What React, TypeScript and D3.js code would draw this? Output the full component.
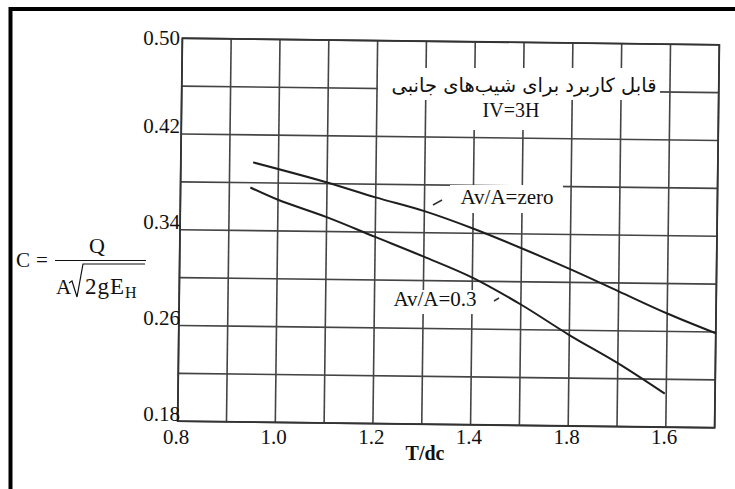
import React from "react";
import * as d3 from "d3";

// ---- data ----
const X_DOMAIN = [0.8, 1.9];
const Y_DOMAIN = [0.18, 0.5];
const X_GRID_STEP = 0.1;
const Y_GRID_STEP = 0.04;
const X_TICKS = [0.8, 1.0, 1.2, 1.4, 1.6, 1.8];
const X_TICK_LABELS = ["0.8", "1.0", "1.2", "1.4", "1.8", "1.6"];
const Y_TICKS = [0.5, 0.42, 0.34, 0.26, 0.18];
const Y_TICK_LABELS = ["0.50", "0.42", "0.34", "0.26", "0.18"];

const ZERO_X = [0.948, 1.1, 1.2, 1.3, 1.4, 1.5, 1.6, 1.7, 1.8, 1.9];
const ZERO_Y = [0.397, 0.381, 0.369, 0.358, 0.344, 0.328, 0.311, 0.293, 0.275, 0.259];
const P3_X = [0.943, 1.0, 1.1, 1.2, 1.3, 1.4, 1.5, 1.6, 1.7, 1.797];
const P3_Y = [0.376, 0.366, 0.352, 0.336, 0.32, 0.303, 0.281, 0.256, 0.233, 0.208];

const SERIES_LABELS = ["Av/A=zero", "Av/A=0.3"];
const TITLE_FA = "قابل کاربرد برای شیب‌های جانبی";
const TITLE_SUB = "IV=3H";
const X_TITLE = "T/dc";

const W = 735;
const H = 489;
const L = 180, R = 717, T = 41.5, B = 424.5;
const SERIF = "'Liberation Serif', 'Times New Roman', serif";

export default function App() {
  const x = d3.scaleLinear().domain(X_DOMAIN).range([L, R]);
  const y = d3.scaleLinear().domain(Y_DOMAIN).range([B, T]);
  const nx = Math.round((X_DOMAIN[1] - X_DOMAIN[0]) / X_GRID_STEP);
  const ny = Math.round((Y_DOMAIN[1] - Y_DOMAIN[0]) / Y_GRID_STEP);
  const gx = d3.range(nx + 1).map((i) => X_DOMAIN[0] + i * X_GRID_STEP);
  const gy = d3.range(ny + 1).map((i) => Y_DOMAIN[0] + i * Y_GRID_STEP);

  const line = d3
    .line<[number, number]>()
    .x((d) => x(d[0]))
    .y((d) => y(d[1]))
    .curve(d3.curveCatmullRom.alpha(0.5));
  const zero = ZERO_X.map((v, i) => [v, ZERO_Y[i]] as [number, number]);
  const p3 = P3_X.map((v, i) => [v, P3_Y[i]] as [number, number]);

  const cx = (L + R) / 2;
  const cy = (T + B) / 2;
  const gridColor = "#444";

  return (
    <svg
      width={W}
      height={H}
      style={{ position: "absolute", left: 0, top: 0, background: "#fff" }}
    >
      <rect x={0} y={0} width={W} height={H} fill="#fff" />
      {/* outer frame */}
      <path d={`M10.5,${H} L10.5,9 L${W},9`} fill="none" stroke="#000" strokeWidth={4} />

      <g transform={`rotate(0.7, ${cx}, ${cy})`}>
        {gx.map((v, i) => (
          <line key={"gx" + i} x1={x(v)} x2={x(v)} y1={T} y2={B} stroke={gridColor} strokeWidth={1.6} />
        ))}
        {gy.map((v, i) => (
          <line key={"gy" + i} x1={L} x2={R} y1={y(v)} y2={y(v)} stroke={gridColor} strokeWidth={1.6} />
        ))}
        <rect x={L} y={T} width={R - L} height={B - T} fill="none" stroke="#333" strokeWidth={1.8} />
        <path d={line(zero) || ""} fill="none" stroke="#1e1e1e" strokeWidth={2} />
        <path d={line(p3) || ""} fill="none" stroke="#1e1e1e" strokeWidth={2} />
      </g>

      {/* y tick labels */}
      {Y_TICKS.map((v, i) => (
        <text
          key={"yt" + i}
          x={L}
          y={y(v) + (v === Y_DOMAIN[1] ? 3 : -4)}
          textAnchor="end"
          fontFamily={SERIF}
          fontSize={21}
          fill="#111"
        >
          {Y_TICK_LABELS[i]}
        </text>
      ))}
      {/* x tick labels */}
      {X_TICKS.map((v, i) => (
        <text
          key={"xt" + i}
          x={x(v) - 4}
          y={B + 19}
          textAnchor="middle"
          fontFamily={SERIF}
          fontSize={21}
          fill="#111"
        >
          {X_TICK_LABELS[i]}
        </text>
      ))}
      <text x={425} y={460} textAnchor="middle" fontFamily={SERIF} fontSize={20} fontWeight="bold" fill="#111">
        {X_TITLE}
      </text>

      {/* y formula */}
      <g fontFamily={SERIF} fill="#111">
        <text x={16} y={267} fontSize={21}>C</text>
        <text x={36} y={267} fontSize={21}>=</text>
        <text x={97} y={253} fontSize={22} textAnchor="middle">Q</text>
        <line x1={55} x2={146} y1={260.5} y2={260.5} stroke="#111" strokeWidth={1.2} />
        <text x={56} y={294} fontSize={21}>A</text>
        <path d="M69,283 L72,281 L77,297 L83,264 L145,264" fill="none" stroke="#111" strokeWidth={1.2} />
        <text x={85} y={294} fontSize={23} letterSpacing={1}>2gE</text>
        <text x={125} y={298} fontSize={16}>H</text>
      </g>

      {/* Persian annotation */}
      <rect x={378} y={68} width={282} height={32} fill="#fff" />
      <rect x={473} y={100} width={75} height={30} fill="#fff" />
      <text
        x={524}
        y={92}
        textAnchor="middle"
        fontFamily="'DejaVu Sans', 'Noto Sans', sans-serif"
        fontSize={19.5}
        direction="rtl"
        fill="#111"
      >
        {TITLE_FA}
      </text>
      <text x={511} y={117} textAnchor="middle" fontFamily={SERIF} fontSize={20} fill="#111">
        {TITLE_SUB}
      </text>

      {/* series labels */}
      <rect x={450} y={185} width={113} height={28} fill="#fff" />
      <text x={507} y={204} textAnchor="middle" fontFamily={SERIF} fontSize={21} fill="#111">
        {SERIES_LABELS[0]}
      </text>
      <path d="M433,205 L442,200" stroke="#333" strokeWidth={1.5} />

      <rect x={378} y={290} width={115} height={24} fill="#fff" />
      <text x={435} y={306} textAnchor="middle" fontFamily={SERIF} fontSize={21} fill="#111">
        {SERIES_LABELS[1]}
      </text>
      <path d="M494,301 L499,298" stroke="#333" strokeWidth={1.5} />
    </svg>
  );
}
